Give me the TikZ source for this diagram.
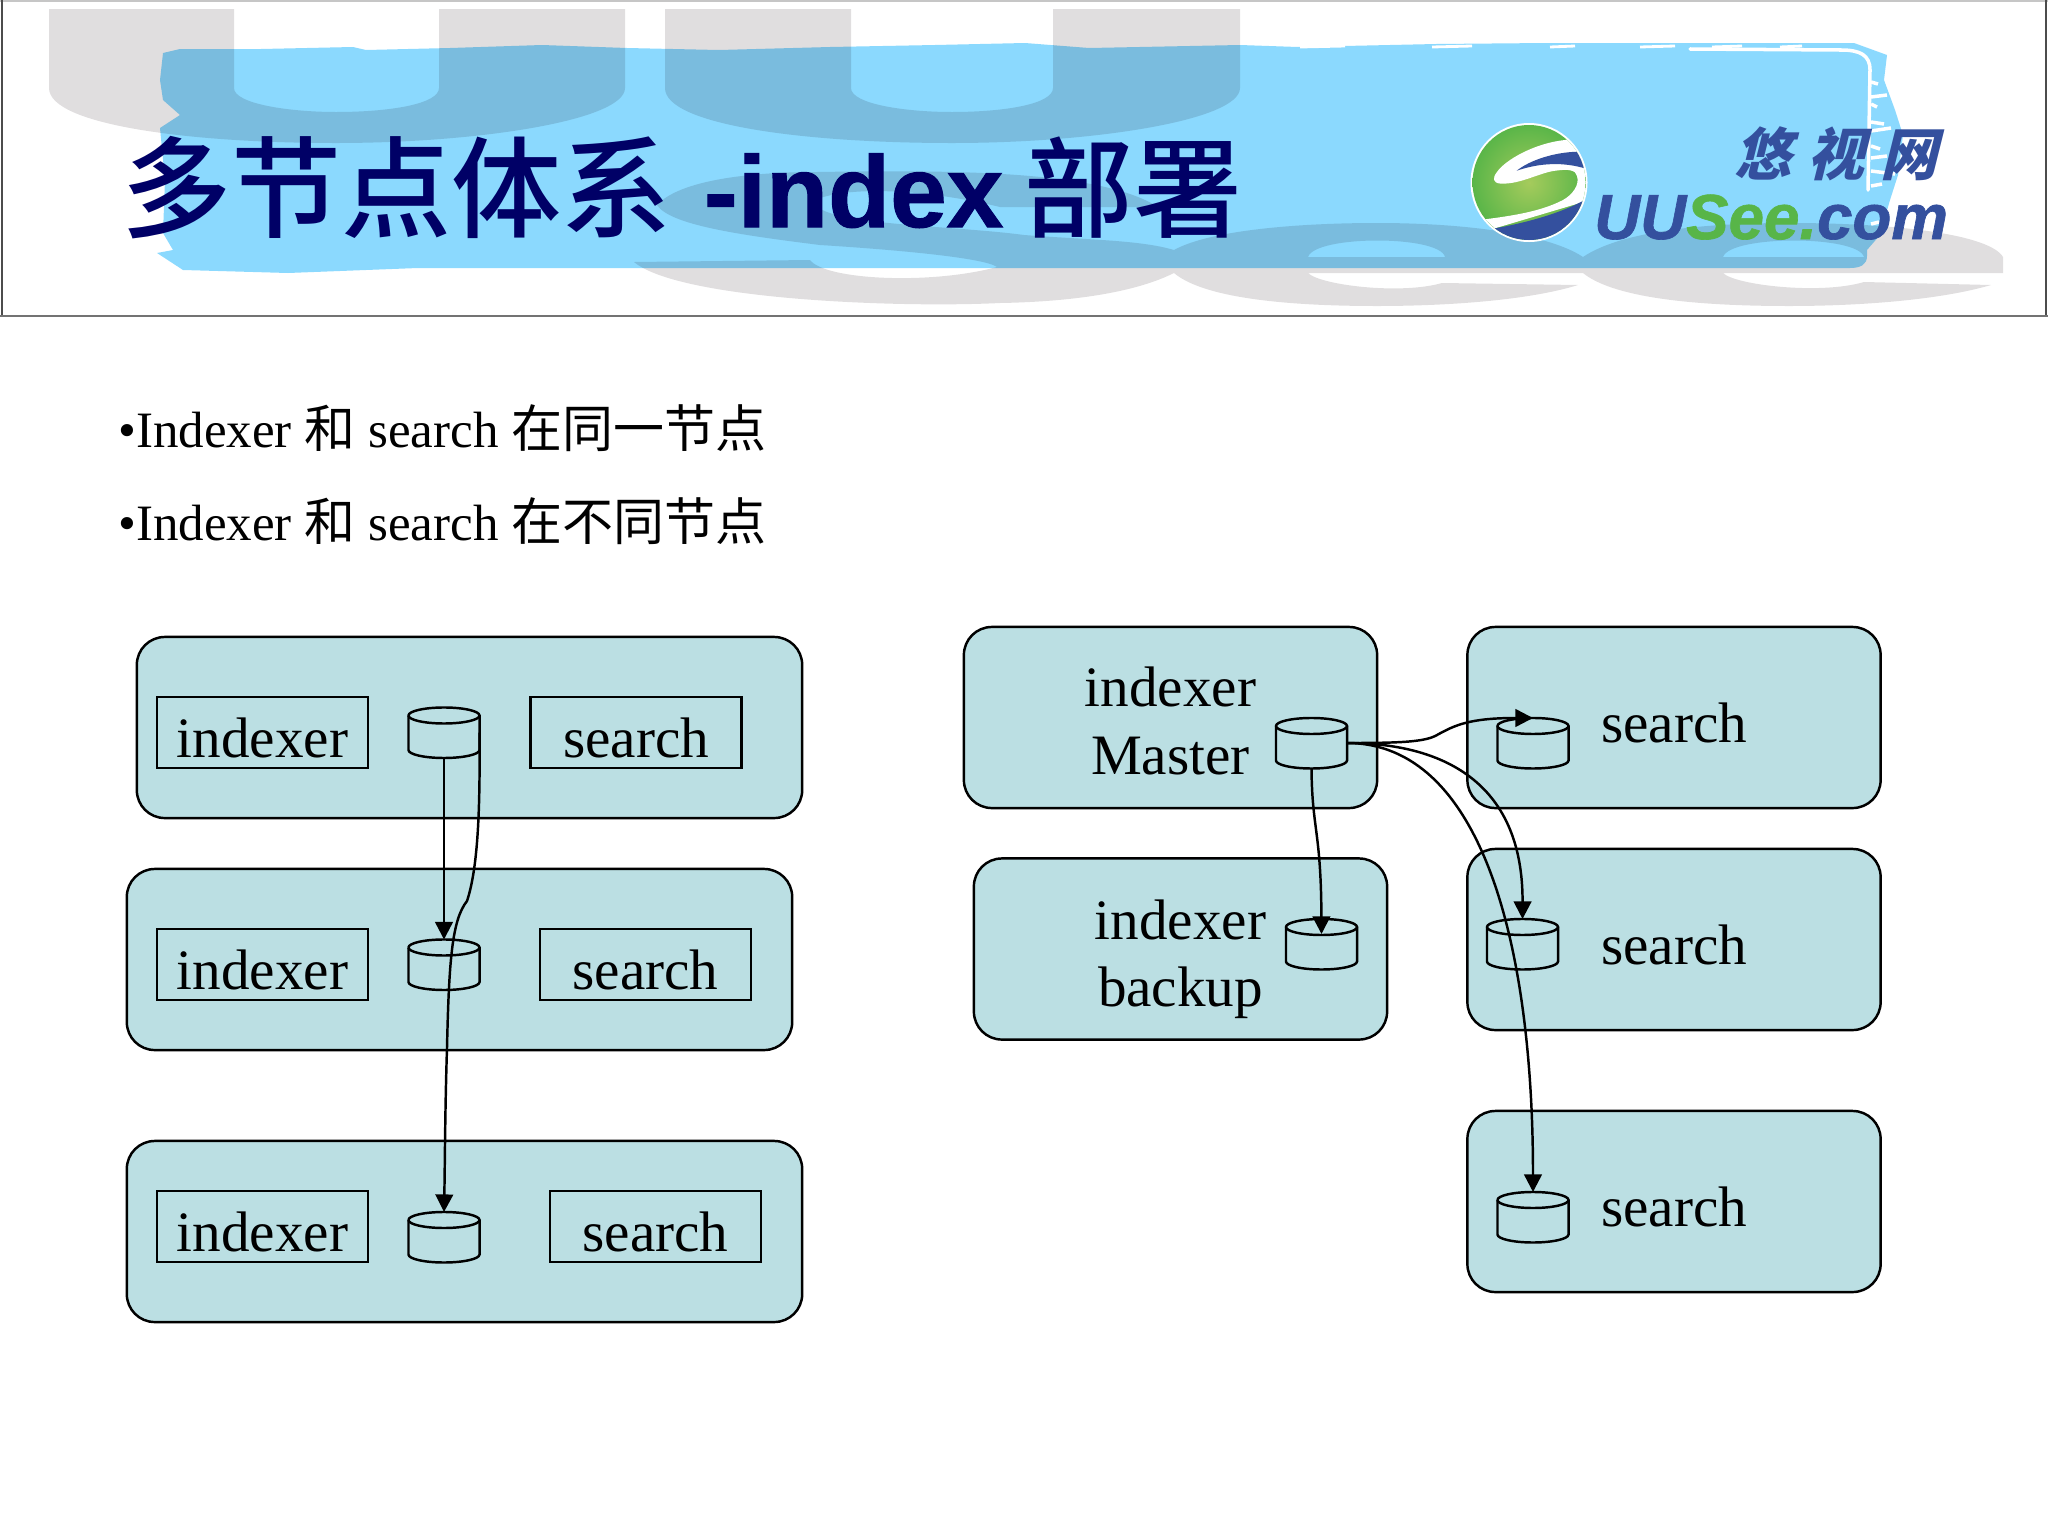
\documentclass[tikz,border=0pt]{standalone}
\usepackage{fontspec}
\usetikzlibrary{arrows.meta}
\setmainfont{Liberation Serif}
\newfontfamily\cjk{Noto Sans CJK SC}
\newfontfamily\cjkmid[UprightFont={* Medium}]{Noto Sans CJK SC}
\newfontfamily\titlesans{Liberation Sans}
\definecolor{hostfill}{HTML}{BBDFE3}
\definecolor{bandblue}{HTML}{8BD9FE}
\definecolor{watergray}{HTML}{E0DEDF}
\definecolor{titlenavy}{HTML}{000066}
\definecolor{logoblue}{HTML}{34509E}
\definecolor{logogreen}{HTML}{58B548}
\definecolor{logolime}{HTML}{A5CB5C}

\begin{document}
\begin{tikzpicture}[x=0.01cm,y=-0.01cm,line width=0.7pt,
		host/.style = {draw, fill=hostfill, rounded corners=0.28cm, minimum width=4.13cm, minimum height=1.81cm, inner sep=0pt, align=center, font=\fontsize{16.25}{19.3}\selectfont},
		oneline/.style = {text height=14pt, text depth=0pt},
		proc/.style = {draw, oneline, minimum height=0.71cm, minimum width=2.11cm, inner sep=0pt, font=\fontsize{16.25}{19.3}\selectfont},
		disk/.style = {minimum width=0.71cm, minimum height=0.5cm, inner sep=0pt, outer sep=0pt},
		flow/.style = {-{Triangle[length=5pt,width=5pt]}}]
	\useasboundingbox (0,0) rectangle (2048,1536);
	% header
	\fill[watergray,even odd rule] (49,9) -- (234,9) -- (234,88) .. controls (234,104) and (290,112) .. (336,112) .. controls (390,112) and (439,104) .. (439,88) -- (439,9) -- (625,9) -- (625,88) .. controls (625,120) and (480,143) .. (336,143) .. controls (190,143) and (49,125) .. (49,88) -- cycle
		(665,9) -- (851,9) -- (851,88) .. controls (851,104) and (905,112) .. (952,112) .. controls (1005,112) and (1053,104) .. (1053,88) -- (1053,9) -- (1240,9) -- (1240,88) .. controls (1240,120) and (1095,143) .. (952,143) .. controls (805,143) and (665,125) .. (665,88) -- cycle
		(657,205) .. controls (680,180) and (750,172) .. (817,172) .. controls (950,170) and (1100,170) .. (1158,207) -- (1000,207) .. controls (930,190) and (850,185) .. (815,200) .. controls (810,225) and (950,225) .. (1024,235) .. controls (1090,240) and (1140,240) .. (1174,250)
		.. controls (1210,230) and (1300,223) .. (1377,223) .. controls (1470,223) and (1550,235) .. (1583,257) .. controls (1620,232) and (1700,223) .. (1789,223) .. controls (1900,223) and (1990,235) .. (2003,257) -- (2003,273) -- (1723,273) .. controls (1735,285) and (1820,295) .. (1864,282) -- (1991,285) .. controls (1940,300) and (1860,306) .. (1789,306) .. controls (1680,306) and (1610,295) .. (1583,273) -- (1308,273) .. controls (1320,285) and (1400,295) .. (1442,283) -- (1578,285) .. controls (1530,300) and (1450,306) .. (1377,306) .. controls (1270,306) and (1200,295) .. (1174,273)
		.. controls (1130,295) and (1060,302) .. (1000,303) .. controls (900,308) and (680,300) .. (634,262) -- (810,260) .. controls (825,280) and (930,285) .. (997,267) .. controls (985,258) and (900,250) .. (820,245) .. controls (740,235) and (670,225) .. (657,205) -- cycle
		(1308,257) .. controls (1315,235) and (1440,235) .. (1445,257) -- cycle
		(1723,257) .. controls (1730,235) and (1858,235) .. (1864,257) -- cycle;
	\begin{scope}[blend mode=multiply]
		\fill[bandblue] (163,53) -- (180,49) -- (261,49) -- (353,47) -- (366,50) -- (450,48) -- (542,45) -- (627,48) -- (719,50) -- (830,47) -- (935,45) -- (1025,43) -- (1089,48) -- (1240,45) -- (1298,47) -- (1436,44) -- (1547,43) -- (1678,43) -- (1854,43) -- (1887,55) -- (1884,80) -- (1895,110) -- (1903,135) -- (1898,175) -- (1890,200) -- (1880,235) -- (1867,250) -- (1867,256) .. controls (1867,265) and (1860,268) .. (1850,268) -- (1000,268) -- (418,268) -- (288,273) -- (183,270) -- (157,253) -- (173,250) -- (163,233) -- (165,180) -- (160,128) -- (180,115) -- (163,100) -- (160,80) -- cycle;
	\end{scope}
	\draw[white,line width=1pt,line cap=round] (1690,49) -- (1841,50) .. controls (1860,50) and (1870,55) .. (1870,70) -- (1868,190);
	\foreach \x/\w in {1300/45,1432/40,1550/25,1640/35,1712/30,1780/22}
		\draw[white,line width=0.8pt] (\x,47) -- ++(\w,-1);
	\foreach \y/\w/\d in {82/7/2,97/16/-2,104/6/3,122/13/2,131/20/-3,146/9/3,158/16/-2,171/24/3,186/11/-2,207/14/3,224/8/-2}
		\draw[white,line width=1pt] (1871,\y) -- ++(\w,\d);
	% logo
	\fill[white] (1529,182.5) ellipse (58.5 and 59.5);
	\begin{scope}
		\clip (1529,182.5) ellipse (56.5 and 57.5);
		\shade[inner color=logolime, outer color=logogreen] (1529,182.5) ellipse (58 and 59);
		\fill[white] (1590,137) -- (1565,140) .. controls (1535,143) and (1505,160) .. (1497,172) .. controls (1492,178) and (1493,183) .. (1500,183.5) .. controls (1520,185) and (1540,172) .. (1557,170.5) .. controls (1568,169) and (1576,170) .. (1577,176) .. controls (1580,185) and (1572,195) .. (1563,200) .. controls (1540,212) and (1510,216) .. (1485,219.3) -- (1495,228.3) -- (1590,200) -- cycle;
		\fill[logoblue] (1516.7,170.7) .. controls (1530,160) and (1555,152) .. (1578.3,151.7) -- (1590,170) .. controls (1570,163) and (1545,161) .. (1516.7,170.7) -- cycle;
		\fill[logoblue] (1495,228.3) .. controls (1530,222) and (1565,212) .. (1590,197) -- (1590,245) -- (1480,245) -- cycle;
	\end{scope}
	\node[anchor=base west, inner sep=0pt, text=logoblue] (logocn) at (1733,175) {\fontsize{16.2}{20}\cjk\addfontfeature{FakeSlant=0.25}\bfseries 悠\hspace{4.6pt}视\hspace{4.6pt}网};
	\node[anchor=base west, inner sep=0pt] (logoen) at (1593,239) {\fontsize{18.1}{20}\titlesans\bfseries\itshape\addfontfeature{FakeBold=1}\textcolor{logoblue}{UU}\textcolor{logogreen}{See.}\textcolor{logoblue}{com}};
	\node[anchor=base west, inner sep=0pt, text=titlenavy] (title) at (120,227) {\fontsize{31.3}{36}\selectfont\raisebox{-0.6pt}{\cjkmid 多节点体系}\hspace{9.2pt}{\fontsize{28.9}{36}\titlesans\bfseries\addfontfeature{FakeBold=1} -index}\hspace{6pt}\fontsize{31}{36}\selectfont\raisebox{-0.6pt}{\cjkmid 部署}};
	\draw[gray!45,line width=0.5pt] (0,0.8) -- (2048,0.8);
	\draw[black!70,line width=0.6pt] (2,0) -- (2,316);
	\draw[black!70,line width=0.6pt] (2046,0) -- (2046,316);
	\draw[black!55,line width=0.6pt] (0,316) -- (2048,316);
	% bullets
	\node[anchor=base west, inner sep=0pt, font=\fontsize{14.5}{17}\selectfont] (lineA) at (117,447) {•Indexer {\cjk 和} search {\cjk 在同一节点}};
	\node[anchor=base west, inner sep=0pt, font=\fontsize{14.5}{17}\selectfont] (lineB) at (117,540) {•Indexer {\cjk 和} search {\cjk 在不同节点}};
	% left hosts
	\node[host, minimum width=6.65cm] (hostA) at (469.5,727.5) {};
	\node[host, minimum width=6.65cm] (hostB) at (459.5,959.5) {};
	\node[host, minimum width=6.75cm] (hostC) at (464.5,1231.5) {};
	\node[proc] (indexerA) at (262.5,732.5) {indexer};
	\node[proc] (indexerB) at (262.5,964.5) {indexer};
	\node[proc] (indexerC) at (262.5,1226.5) {indexer};
	\node[proc] (searchA) at (636,732.5) {search};
	\node[proc] (searchB) at (645.5,964.5) {search};
	\node[proc] (searchC) at (655.5,1226.5) {search};
	\node[disk] (diskA) at (444,732.5) {};
	\node[disk] (diskB) at (444,964.5) {};
	\node[disk] (diskC) at (444,1237) {};
	% right hosts
	\node[host, text height=32.7pt] (master) at (1170.5,717.5) {indexer\\Master};
	\node[host, text height=36.4pt] (backup) at (1180.5,949) {indexer\\backup};
	\node[host, oneline] (searchD) at (1674,717.5) {search};
	\node[host, oneline] (searchE) at (1674,939.5) {search};
	\node[host, oneline] (searchF) at (1674,1201.5) {search};
	\node[disk] (diskM) at (1311.5,743) {};
	\node[disk] (diskN) at (1321.5,944) {};
	\node[disk] (diskD) at (1533,743) {};
	\node[disk] (diskE) at (1522.5,944) {};
	\node[disk] (diskF) at (1533,1217) {};
	\foreach \d in {diskA,diskB,diskC,diskM,diskN,diskD,diskE,diskF} {
		\draw (\d.north west) ++(0,8) -- ++(0,34.5) arc (180:360:0.355cm and 0.08cm) -- ++(0,-34.5) arc (0:180:0.355cm and 0.08cm);
		\draw (\d.north west) ++(0,8) arc (180:360:0.355cm and 0.08cm);
	}
	\coordinate (bendA) at (467,901);
	\coordinate (bendB) at (447,1048);
	\draw[flow] (diskA.south) -- (diskB.north);
	\draw[flow] (diskA.east) .. controls (480,800) and (479,865) .. (bendA) .. controls (452,920) and (449,960) .. (bendB) .. controls (445,1110) and (445,1160) .. (diskC.north);
	\coordinate (tipN) at (1321.5,934);
	\coordinate (bendD) at (1437,735);
	\draw[flow] (diskM.south) .. controls (1312,830) and (1321,830) .. (tipN);
	\draw[flow] (diskM.east) .. controls (1400,743) and (1425,742) .. (bendD) .. controls (1455,725) and (1470,718) .. (diskD.north);
	\draw[flow] (diskM.east) .. controls (1440,743) and (1523,780) .. (diskE.north);
	\draw[flow] (diskM.east) .. controls (1480,743) and (1533,940) .. (diskF.north);
\end{tikzpicture}
\end{document}
